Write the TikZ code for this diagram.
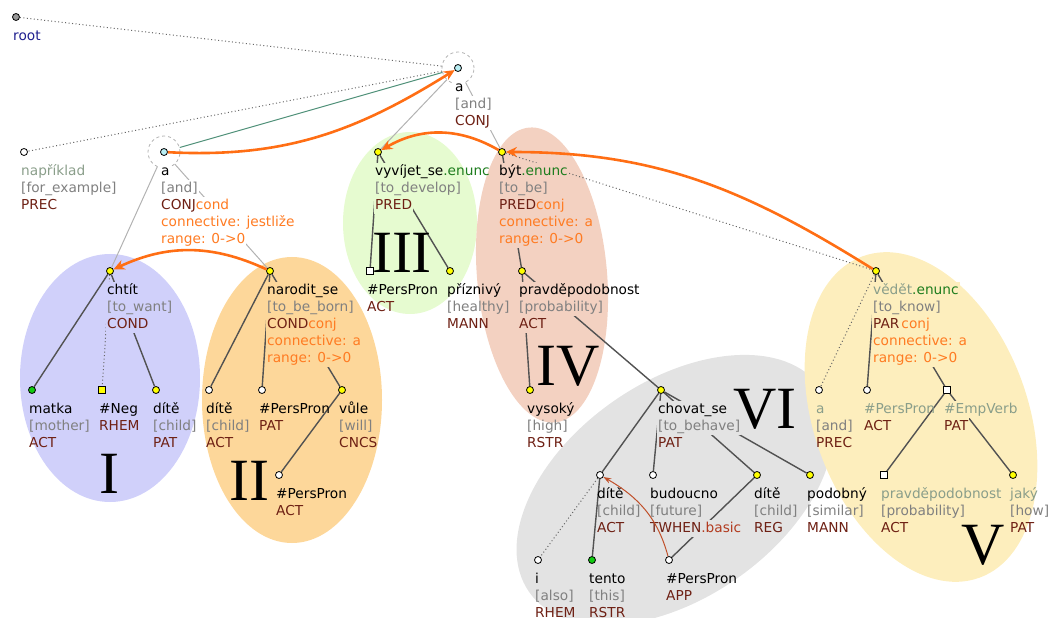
\documentclass[tikz,border=0pt]{standalone}
\usepackage{fontspec}
\usetikzlibrary{arrows.meta}
\newfontfamily\lblfont{DejaVu Sans}
\newfontfamily\numfont{Liberation Serif}

% region fills
\definecolor{cI}{HTML}{D0D0FA}
\definecolor{cII}{HTML}{FDD79A}
\definecolor{cIII}{HTML}{E6FBD0}
\definecolor{cIV}{HTML}{F3D1C1}
\definecolor{cV}{HTML}{FDEEBD}
\definecolor{cVI}{HTML}{E3E3E3}
% text colours
\definecolor{tgloss}{HTML}{808080}
\definecolor{tfunc}{HTML}{6E2014}
\definecolor{torange}{HTML}{FF7B22}
\definecolor{tenunc}{HTML}{1E7D1E}
\definecolor{thid}{HTML}{8A9E8A}
\definecolor{troot}{HTML}{1F1F8F}
\definecolor{tbasic}{HTML}{B23A1E}
% lines and dots
\definecolor{tteal}{HTML}{4D8F77}
\definecolor{tarrow}{HTML}{FF6E14}
\definecolor{tbrown}{HTML}{C0502A}
\definecolor{dyellow}{HTML}{FFFF00}
\definecolor{dgreen}{HTML}{11CC11}
\definecolor{dcyan}{HTML}{B8EEF4}

\newcommand\glo[1]{\textcolor{tgloss}{#1}}
\newcommand\fnc[1]{\textcolor{tfunc}{#1}}
\newcommand\ora[1]{\textcolor{torange}{#1}}
\newcommand\enu[1]{\textcolor{tenunc}{#1}}
\newcommand\hid[1]{\textcolor{thid}{#1}}

% one label line, with or without a backing box
\newcommand\bxstrut{\rule[-3.5bp]{0pt}{15bp}}
\newcommand\plstrut{\rule[-4.5bp]{0pt}{17bp}}
\newcommand\pbx[1]{{\fboxsep=1bp\colorbox{lblbg}{\bxstrut#1}}}
\newcommand\boxline[1]{\pbx{#1}}
\newcommand\plainline[1]{\hbox{\kern1bp\plstrut#1\kern1bp}}
\newcommand\lblsetup{\lblfont\fontsize{13.75}{17.06}\selectfont}
\newcommand\numsetup{\numfont\fontsize{60.2}{60.2}\selectfont}
\colorlet{lblbg}{white}

\tikzset{
  lbl/.style={font=\lblsetup, anchor=north west, inner sep=0pt, align=left,
    execute at begin node={\lineskiplimit=-10pt\relax\lineskip=0pt\relax\colorlet{lblbg}{#1}\let\tline\boxline}},
  lbl/.default=white,
  txt/.style={font=\lblsetup, anchor=north west, inner sep=0pt, align=left,
    execute at begin node={\lineskiplimit=-10pt\relax\lineskip=0pt\relax\let\tline\plainline}},
  dot/.style={circle, draw=black, line width=0.8bp, fill=#1, minimum size=7bp, inner sep=0pt},
  sq/.style={rectangle, draw=black, line width=0.8bp, fill=#1, minimum size=7bp, inner sep=0pt},
  coordring/.style={circle, draw=black!30, dashed, line width=0.8bp, minimum size=32bp, inner sep=0pt},
  dep/.style={draw=black!68, line width=1.4bp},
  memb/.style={draw=black!30, line width=1bp},
  dotln/.style={draw=black!60, line width=1bp, dash pattern=on 1bp off 2.5bp},
  tealln/.style={draw=tteal, line width=1bp},
  orarr/.style={draw=tarrow, line width=2.6bp, -{Stealth[length=11bp,width=10bp]}},
  brarr/.style={draw=tbrown, line width=1bp, -{Stealth[length=8bp,width=5.5bp]}},
  numeral/.style={font=\numsetup, anchor=base, inner sep=0pt},
}

\begin{document}
\begin{tikzpicture}[x=1bp,y=-1bp]
\useasboundingbox (0,0) rectangle (1051,618);

% ---- highlighted regions ----
\fill[cI] (110,378) ellipse [x radius=90, y radius=124];
\fill[cII] (292,400) ellipse [x radius=90, y radius=143];
\fill[cIII] (410,223) ellipse [x radius=67, y radius=91];
\fill[cIV, shift={(542,275)}, rotate=5] (0,0) ellipse [x radius=65, y radius=148];
\fill[cVI, shift={(675,490)}, rotate=35] (0,0) ellipse [x radius=178, y radius=108];
\fill[cV, shift={(921,417)}, rotate=20] (0,0) ellipse [x radius=107, y radius=171];

% ---- tree nodes ----
\node[dot=black!40] (root) at (16,17) {};
\node[dot=dcyan] (atop) at (458,68) {};
\node[coordring] (atopR) at (458,68) {};
\node[dot=white] (napr) at (24,152) {};
\node[dot=dcyan] (a2) at (164,152) {};
\node[coordring] (a2R) at (164,152) {};
\node[dot=dyellow] (vyvijet) at (378,152) {};
\node[dot=dyellow] (byt) at (502,152) {};
\node[dot=dyellow] (chtit) at (110,271) {};
\node[dot=dyellow] (narodit) at (270,271) {};
\node[sq=white] (pp3) at (370,271) {};
\node[dot=dyellow] (priznivy) at (450,271) {};
\node[dot=dyellow] (pravd) at (522,271) {};
\node[dot=dyellow] (vedet) at (876,271) {};
\node[dot=dgreen] (matka) at (32,390) {};
\node[sq=dyellow] (neg) at (102,390) {};
\node[dot=dyellow] (dite1) at (156,390) {};
\node[dot=white] (dite2) at (209,390) {};
\node[dot=white] (pp2) at (262,390) {};
\node[dot=dyellow] (vule) at (342,390) {};
\node[dot=white] (pp2b) at (279,475) {};
\node[dot=dyellow] (vysoky) at (530,390) {};
\node[dot=dyellow] (chovat) at (661,390) {};
\node[dot=white] (a3) at (819,390) {};
\node[dot=white] (pp5) at (867,390) {};
\node[sq=white] (emp) at (947,390) {};
\node[dot=white] (dite3) at (600,475) {};
\node[dot=white] (budoucno) at (653,475) {};
\node[dot=dyellow] (dite4) at (757,475) {};
\node[dot=dyellow] (podobny) at (810,475) {};
\node[sq=white] (pravd5) at (884,475) {};
\node[dot=dyellow] (jaky) at (1013,475) {};
\node[dot=white] (i) at (538,560) {};
\node[dot=dgreen] (tento) at (592,560) {};
\node[dot=white] (pp6) at (669,560) {};

% ---- dependency edges ----
\draw[dotln] (root) -- (atopR);
\draw[dotln] (atopR) -- (napr);
\draw[tealln] (a2R) -- (atopR);
\draw[memb] (atopR) -- (vyvijet);
\draw[memb] (atopR) -- (byt);
\draw[memb] (a2R) -- (chtit);
\draw[memb] (a2R) -- (narodit);
\draw[dotln] (byt) -- (vedet);
\draw[dotln] (chtit) -- (neg);
\draw[dotln] (dite3) -- (i);
\draw[dotln] (vedet) -- (a3);
\draw[dep] (chtit) -- (matka);
\draw[dep] (chtit) -- (dite1);
\draw[dep] (narodit) -- (dite2);
\draw[dep] (narodit) -- (pp2);
\draw[dep] (narodit) -- (vule);
\draw[dep] (vule) -- (pp2b);
\draw[dep] (vyvijet) -- (pp3);
\draw[dep] (vyvijet) -- (priznivy);
\draw[dep] (byt) -- (pravd);
\draw[dep] (pravd) -- (vysoky);
\draw[dep] (pravd) -- (chovat);
\draw[dep] (chovat) -- (dite3);
\draw[dep] (chovat) -- (budoucno);
\draw[dep] (chovat) -- (dite4);
\draw[dep] (chovat) -- (podobny);
\draw[dep] (dite3) -- (tento);
\draw[dep] (dite4) -- (pp6);
\draw[dep] (vedet) -- (pp5);
\draw[dep] (vedet) -- (emp);
\draw[dep] (emp) -- (pravd5);
\draw[dep] (emp) -- (jaky);

% ---- node labels ----
\node[txt] (root-l) at (12,27.5) {\tline{\textcolor{troot}{root}}};
\node[lbl] (atop-l) at (454,78.5) {\tline{a}\\\tline{\glo{[and]}}\\\tline{\fnc{CONJ}}};
\node[txt] (napr-l) at (20,162.5) {\tline{\hid{například}}\\\tline{\glo{[for\_example]}}\\\tline{\fnc{PREC}}};
\node[lbl] (a2-l) at (160,162.5) {\tline{a}\\\tline{\glo{[and]}}\\\tline{\fnc{CONJ}\ora{cond}}\\\tline{\ora{connective: jestliže}}\\\tline{\ora{range: 0->0}}};
\node[lbl=cIII] (vyvijet-l) at (374,162.5) {\hbox{\pbx{vyvíjet\_se}\kern-1bp\enu{.enunc}}\\\hbox{\pbx{\glo{[to\_de}}\kern-1bp\glo{velop]}}\\\tline{\fnc{PRED}}};
\node[lbl=cIV] (byt-l) at (498,162.5) {\tline{být\enu{.enunc}}\\\tline{\glo{[to\_be]}}\\\tline{\fnc{PRED}\ora{conj}}\\\tline{\ora{connective: a}}\\\tline{\ora{range: 0->0}}};
\node[lbl=cI] (chtit-l) at (106,281.5) {\tline{chtít}\\\tline{\glo{[to\_want]}}\\\tline{\fnc{COND}}};
\node[lbl=cII] (narodit-l) at (266,281.5) {\tline{narodit\_se}\\\tline{\glo{[to\_be\_born]}}\\\tline{\fnc{COND}\ora{conj}}\\\tline{\ora{connective: a}}\\\tline{\ora{range: 0->0}}};
\node[txt] (pp3-l) at (366,281.5) {\tline{\#PersPron}\\\tline{\fnc{ACT}}};
\node[txt] (priznivy-l) at (446,281.5) {\tline{příznivý}\\\tline{\glo{[healthy]}}\\\tline{\fnc{MANN}}};
\node[lbl=cIV] (pravd-l) at (518,281.5) {\hbox{\pbx{pravděpo}\kern-1bp dobnost}\\\tline{\glo{[probability]}}\\\tline{\fnc{ACT}}};
\node[lbl=cV] (vedet-l) at (872,281.5) {\tline{\hid{vědět}\enu{.enunc}}\\\tline{\glo{[to\_know]}}\\\tline{\fnc{PAR}\kern2bp\ora{conj}}\\\tline{\ora{connective: a}}\\\tline{\ora{range: 0->0}}};
\node[txt] (matka-l) at (28,400.5) {\tline{matka}\\\tline{\glo{[mother]}}\\\tline{\fnc{ACT}}};
\node[txt] (neg-l) at (98,400.5) {\tline{\#Neg}\\\tline{\fnc{RHEM}}};
\node[txt] (dite1-l) at (152,400.5) {\tline{dítě}\\\tline{\glo{[child]}}\\\tline{\fnc{PAT}}};
\node[txt] (dite2-l) at (205,400.5) {\tline{dítě}\\\tline{\glo{[child]}}\\\tline{\fnc{ACT}}};
\node[txt] (pp2-l) at (258,400.5) {\tline{\#PersPron}\\\tline{\fnc{PAT}}};
\node[txt] (vule-l) at (338,400.5) {\tline{vůle}\\\tline{\glo{[will]}}\\\tline{\fnc{CNCS}}};
\node[txt] (pp2b-l) at (275,485.5) {\tline{\#PersPron}\\\tline{\fnc{ACT}}};
\node[txt] (vysoky-l) at (526,400.5) {\tline{vysoký}\\\tline{\glo{[high]}}\\\tline{\fnc{RSTR}}};
\node[lbl=cVI] (chovat-l) at (657,400.5) {\tline{chovat\_se}\\\tline{\glo{[to\_behave]}}\\\tline{\fnc{PAT}}};
\node[txt] (a3-l) at (815,400.5) {\tline{\hid{a}}\\\tline{\glo{[and]}}\\\tline{\fnc{PREC}}};
\node[txt] (pp5-l) at (863,400.5) {\tline{\hid{\#PersPron}}\\\tline{\fnc{ACT}}};
\node[lbl=cV] (emp-l) at (943,400.5) {\tline{\hid{\#EmpVerb}}\\\tline{\fnc{PAT}}};
\node[txt] (dite3-l) at (596,485.5) {\tline{dítě}\\\tline{\glo{[child]}}\\\tline{\fnc{ACT}}};
\node[lbl=cVI] (budoucno-l) at (649,485.5) {\tline{budoucno}\\\tline{\glo{[future]}}\\\tline{\fnc{TWHEN}\textcolor{tbasic}{.basic}}};
\node[txt] (dite4-l) at (753,485.5) {\tline{dítě}\\\tline{\glo{[child]}}\\\tline{\fnc{REG}}};
\node[txt] (podobny-l) at (806,485.5) {\tline{podobný}\\\tline{\glo{[similar]}}\\\tline{\fnc{MANN}}};
\node[txt] (pravd5-l) at (880,485.5) {\tline{\hid{pravděpodobnost}}\\\tline{\glo{[probability]}}\\\tline{\fnc{ACT}}};
\node[txt] (jaky-l) at (1009,485.5) {\tline{\hid{jaký}}\\\tline{\glo{[how]}}\\\tline{\fnc{PAT}}};
\node[txt] (i-l) at (534,570.5) {\tline{i}\\\tline{\glo{[also]}}\\\tline{\fnc{RHEM}}};
\node[txt] (tento-l) at (588,570.5) {\tline{tento}\\\tline{\glo{[this]}}\\\tline{\fnc{RSTR}}};
\node[txt] (pp6-l) at (665,570.5) {\tline{\#PersPron}\\\tline{\fnc{APP}}};

% ---- region numerals ----
\node[numeral] (numI) at (109,493) {I};
\node[numeral] (numII) at (249,500) {II};
\node[numeral] (numIII) at (402,273) {III};
\node[numeral] (numIV) at (568,385) {IV};
\node[numeral] (numV) at (983,564) {V};
\node[numeral] (numVI) at (765,428) {VI};

% ---- discourse arrows ----
\draw[orarr] (a2) to[out=-3, in=212] (atop);
\draw[orarr] (byt) to[out=150, in=30] (vyvijet);
\draw[orarr] (narodit) to[out=155, in=25] (chtit);
\draw[orarr] (vedet) to[out=148, in=0] (byt);
\draw[brarr] (pp6) to[out=105, in=330] (dite3);
\end{tikzpicture}
\end{document}
